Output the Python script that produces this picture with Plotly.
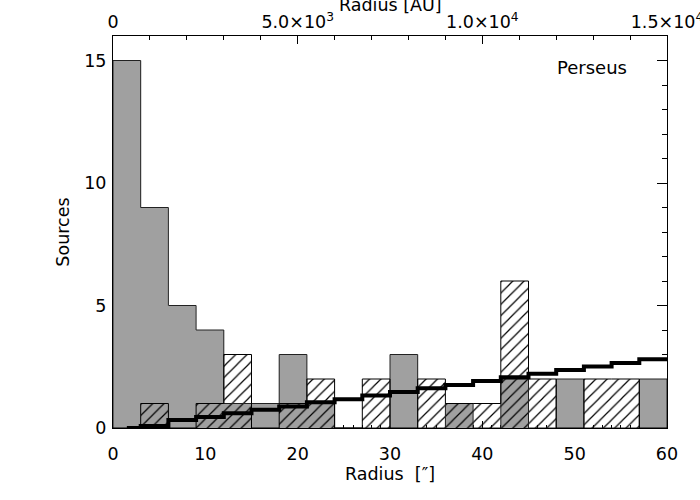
import plotly.graph_objects as go

# ---- data ----
bin_left_edges = [0, 3, 6, 9, 12, 15, 18, 21, 24, 27, 30, 33, 36, 39, 42, 45, 48, 51, 54, 57]
bin_centers = [1.5, 4.5, 7.5, 10.5, 13.5, 16.5, 19.5, 22.5, 25.5, 28.5,
               31.5, 34.5, 37.5, 40.5, 43.5, 46.5, 49.5, 52.5, 55.5, 58.5]
bin_width = 3
x_max = 60
gray_counts = [15, 9, 5, 4, 1, 1, 3, 1, 0, 0, 3, 0, 1, 0, 2, 0, 2, 0, 0, 2]
hatched_counts = [0, 1, 0, 1, 3, 0, 1, 2, 0, 2, 0, 2, 1, 1, 6, 2, 0, 2, 2, 0]

model_x = [1.5, 3, 6, 9, 12, 15, 18, 21, 24, 27, 30, 33, 36, 39, 42, 45, 48, 51, 54, 57, 60]
model_y = [0.0, 0.08, 0.33, 0.45, 0.6, 0.74, 0.88, 1.05, 1.17, 1.33, 1.47,
           1.62, 1.76, 1.92, 2.07, 2.21, 2.37, 2.51, 2.65, 2.81, 2.81]

x_ticks = [0, 10, 20, 30, 40, 50, 60]
y_ticks = [0, 5, 10, 15]
au_ticks = [0, 5000, 10000, 15000]
au_labels = ["0", "5.0×10<sup>3</sup>", "1.0×10<sup>4</sup>", "1.5×10<sup>4</sup>"]
au_max = 15000
y_max = 16

FONT = "DejaVu Sans"
FS = 17.5
GRAY = "#a0a0a0"

fig = go.Figure()

# gray filled histogram
fig.add_trace(go.Bar(x=bin_centers, y=gray_counts, width=bin_width,
                     marker=dict(color=GRAY, line=dict(width=0)),
                     hoverinfo="skip", showlegend=False))
# hatched histogram (transparent background)
fig.add_trace(go.Bar(x=bin_centers, y=hatched_counts, width=bin_width,
                     marker=dict(color="black", line=dict(width=0),
                                 pattern=dict(shape="/", size=8, solidity=0.15,
                                              fillmode="replace", fgcolor="black")),
                     hoverinfo="skip", showlegend=False))

# outlines (histogram step style)
out_x = [bin_left_edges[0]] + bin_left_edges + [x_max]
fig.add_trace(go.Scatter(x=out_x, y=[0] + gray_counts + [0], mode="lines",
                         line=dict(color="#222222", width=1, shape="hv"),
                         hoverinfo="skip", showlegend=False))
fig.add_trace(go.Scatter(x=out_x, y=[0] + hatched_counts + [0], mode="lines",
                         line=dict(color="black", width=1, shape="hv"),
                         hoverinfo="skip", showlegend=False))

# model step line
fig.add_trace(go.Scatter(x=model_x, y=model_y, mode="lines",
                         line=dict(color="black", width=4, shape="hv"),
                         hoverinfo="skip", showlegend=False))

# invisible trace to activate top AU axis
fig.add_trace(go.Scatter(x=au_ticks, y=[0] * len(au_ticks), xaxis="x2", yaxis="y",
                         mode="markers", marker=dict(opacity=0),
                         hoverinfo="skip", showlegend=False))

fig.update_layout(
    width=700, height=500,
    margin=dict(l=113, r=33, t=36, b=72, autoexpand=False),
    paper_bgcolor="white", plot_bgcolor="white",
    barmode="overlay", bargap=0,
    font=dict(family=FONT, size=FS, color="black"),
    xaxis=dict(range=[0, x_max], tickvals=x_ticks, ticks="inside", ticklen=7,
               tickcolor="black", showline=True, linecolor="black", linewidth=1,
               showgrid=False, zeroline=False, layer="below traces", automargin=False,
               minor=dict(dtick=1, ticks="inside", ticklen=3, tickcolor="black"),
               title=dict(text="Radius\u00a0\u00a0[″]", standoff=1, font=dict(size=FS)),
               tickfont=dict(size=FS), ticklabelstandoff=10),
    xaxis2=dict(range=[0, au_max], overlaying="x", side="top",
                tickvals=au_ticks, ticktext=au_labels, ticks="inside", ticklen=8,
                tickcolor="black", showline=True, linecolor="black", linewidth=1,
                showgrid=False, zeroline=False, automargin=False,
                ticklabeloverflow="allow", ticklabelstandoff=0,
                minor=dict(dtick=1000, ticks="inside", ticklen=4, tickcolor="black"),
                tickfont=dict(size=FS)),
    yaxis=dict(range=[0, y_max], tickvals=y_ticks, ticks="inside", ticklen=10,
               tickcolor="black", showline=True, linecolor="black", linewidth=1,
               mirror="ticks", showgrid=False, zeroline=False, layer="below traces",
               automargin=False,
               minor=dict(dtick=1, ticks="inside", ticklen=5, tickcolor="black"),
               title=dict(text="Sources", standoff=10, font=dict(size=FS)),
               tickfont=dict(size=FS), ticklabelstandoff=2),
    annotations=[
        dict(text="Radius [AU]", xref="paper", yref="paper", x=0.5, y=1,
             xanchor="center", yanchor="bottom", yshift=19, showarrow=False,
             font=dict(size=FS)),
        dict(text="Perseus", xref="paper", yref="paper", x=0.864, y=0.92,
             xanchor="center", yanchor="middle", showarrow=False,
             font=dict(size=18)),
    ],
)

fig.write_html("out.html", config={"displayModeBar": False},
               post_script="document.body.style.margin='0';document.body.style.padding='0';")
